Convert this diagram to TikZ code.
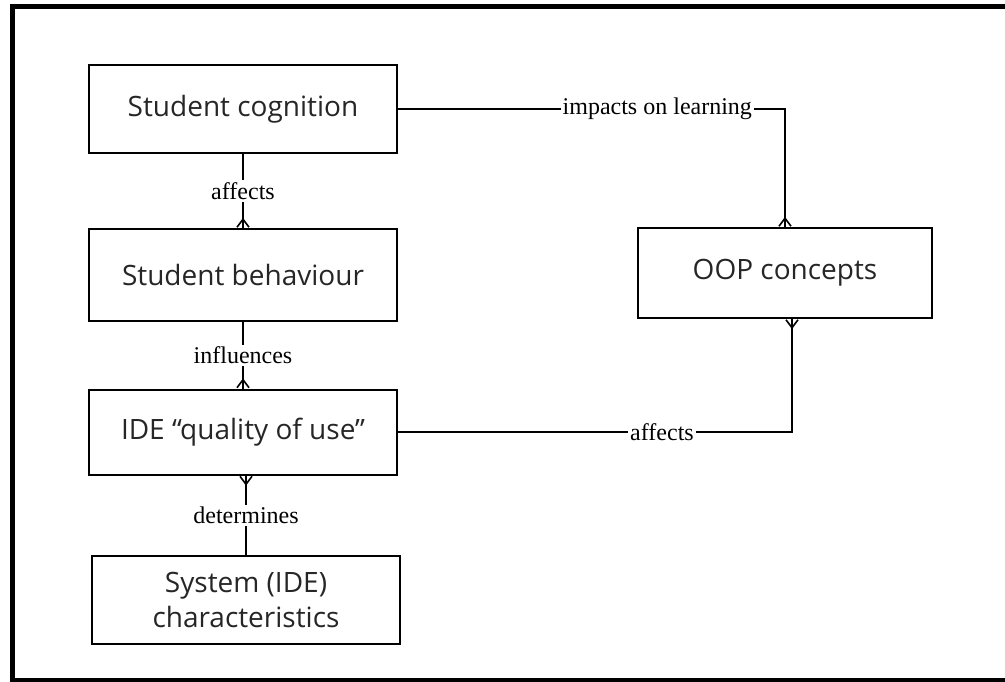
\documentclass[tikz,border=0pt]{standalone}
\usepackage{fontspec}
\setmainfont{Liberation Serif}
\newfontfamily\boxfont{Open Sans}
\usetikzlibrary{arrows.meta}

\begin{document}
\begin{tikzpicture}[x=0.5pt, y=-0.5pt,
  box/.style={draw, line width=1pt, minimum width=154pt, minimum height=44pt,
    align=center, text=black!85, font=\boxfont\fontsize{14}{17.5}\selectfont},
  lbl/.style={fill=white, inner sep=1pt, font=\fontsize{12}{14}\selectfont},
  link/.style={line width=0.8pt},
  crow/.style={-{Straight Barb[reversed, length=4pt, width=6pt]},
    postaction={draw, arrows=-}}]
  % page and frame
  \clip (0,0) rectangle (1005,681);
  \draw[line width=2.5pt] (1020,6.5) -- (12.5,6.5) -- (12.5,680) -- (1020,680);
  % boxes
  \node[box] (cog) at (243,109) {Student cognition};
  \node[box, minimum height=46pt] (beh) at (243,275) {Student behaviour};
  \node[box, minimum height=42.5pt] (ide) at (243,432) {IDE “quality of use”};
  \node[box] (sys) at (246,600) {System (IDE)\\characteristics};
  \node[box, minimum width=147pt, minimum height=45pt] (oop) at (785,273) {OOP concepts};
  % left column links
  \draw[link, crow] (cog) -- node[lbl] {affects} (beh);
  \draw[link, crow] (beh) -- node[lbl] {influences} (ide);
  \draw[link, crow] (sys.north) -- node[lbl] {determines} (sys.north |- ide.south);
  % links to OOP concepts
  \draw[link, crow] (cog.east) -| node[lbl, pos=0.335] {impacts on learning} (oop.north);
  \draw[link, crow] (ide.east) -| node[lbl, pos=0.335] {affects} ([xshift=3.5pt]oop.south);
\end{tikzpicture}
\end{document}
